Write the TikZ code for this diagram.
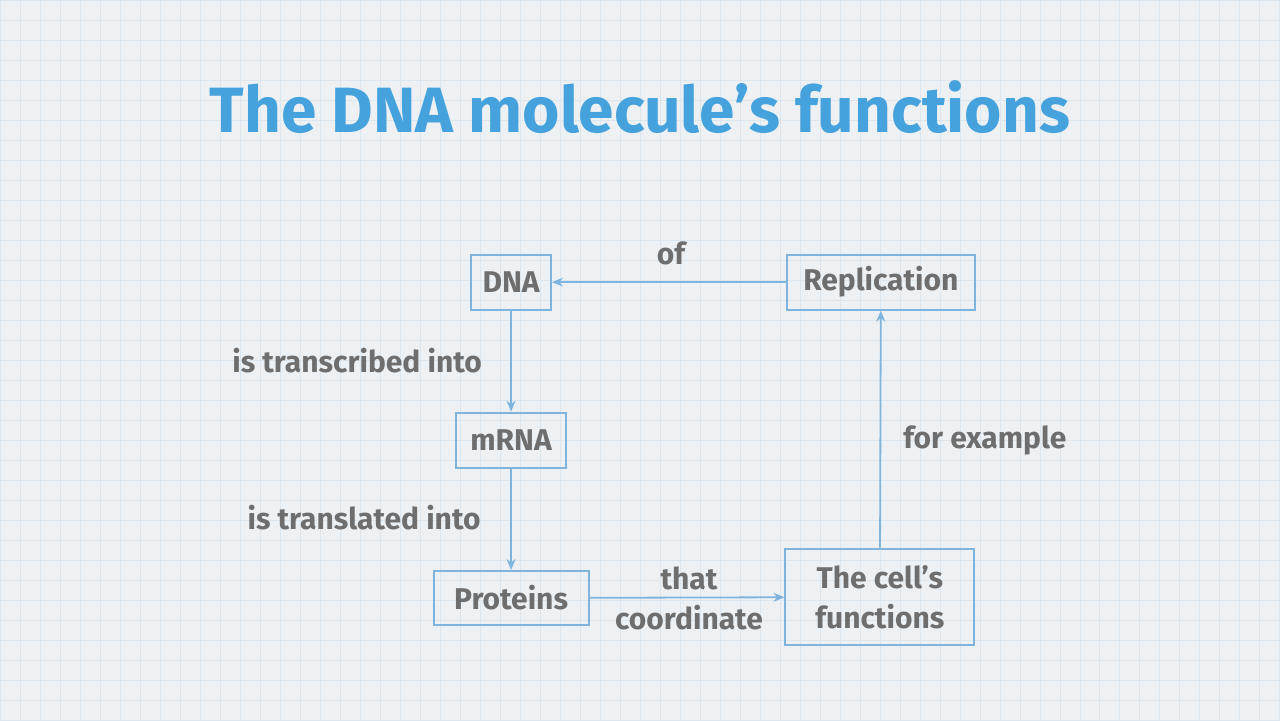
\documentclass[tikz,border=0pt]{standalone}
\usepackage{fontspec}
\setmainfont{Fira Sans}
\usetikzlibrary{arrows.meta}
\definecolor{bg}{HTML}{EEF1F4}
\definecolor{grid}{HTML}{DCE6EF}
\definecolor{ttl}{HTML}{45A2DC}
\definecolor{txt}{HTML}{6E6E6E}
\definecolor{box}{HTML}{7FB4DC}
\begin{document}
\begin{tikzpicture}[x=1pt,y=1pt,
  bx/.style={draw=box,line width=2pt,text=txt,font=\fontsize{30}{40}\selectfont\bfseries,inner sep=0pt,align=center},
  lb/.style={text=txt,font=\fontsize{30}{40}\selectfont\bfseries,align=center,inner sep=0pt},
  ar/.style={draw=box,line width=1.8pt,-{Stealth[length=11pt,width=9pt]}}]
\fill[bg] (0,0) rectangle (1280,720);
\draw[grid,line width=0.6pt,step=20] (0,0) grid (1280,720);
\useasboundingbox (0,0) rectangle (1280,720);
\node[text=ttl,font=\fontsize{64}{70}\selectfont\bfseries] (t) at (640,613) {The DNA molecule’s functions};
\node[bx,minimum width=80,minimum height=55] (dna) at (511,438) {DNA};
\node[bx,minimum width=188,minimum height=55] (rep) at (881,438) {Replication};
\node[bx,minimum width=110,minimum height=55] (mrna) at (511,280) {mRNA};
\node[bx,minimum width=155,minimum height=54] (pro) at (511,122) {Proteins};
\node[bx,minimum width=189,minimum height=97] (cell) at (880,123) {The cell’s\\functions};
\draw[ar] (rep) -- (dna);
\draw[ar] (dna) -- (mrna);
\draw[ar] (mrna) -- (pro);
\draw[ar] (pro) -- (cell);
\draw[ar] (cell) -- (rep);
\node[lb] (l1) at (671,467) {of};
\node[lb] (l2) at (357,360) {is transcribed into};
\node[lb] (l3) at (364,202) {is translated into};
\node[lb] (l4) at (689,122) {that\\coordinate};
\node[lb] (l5) at (985,280) {for example};
\end{tikzpicture}
\end{document}
